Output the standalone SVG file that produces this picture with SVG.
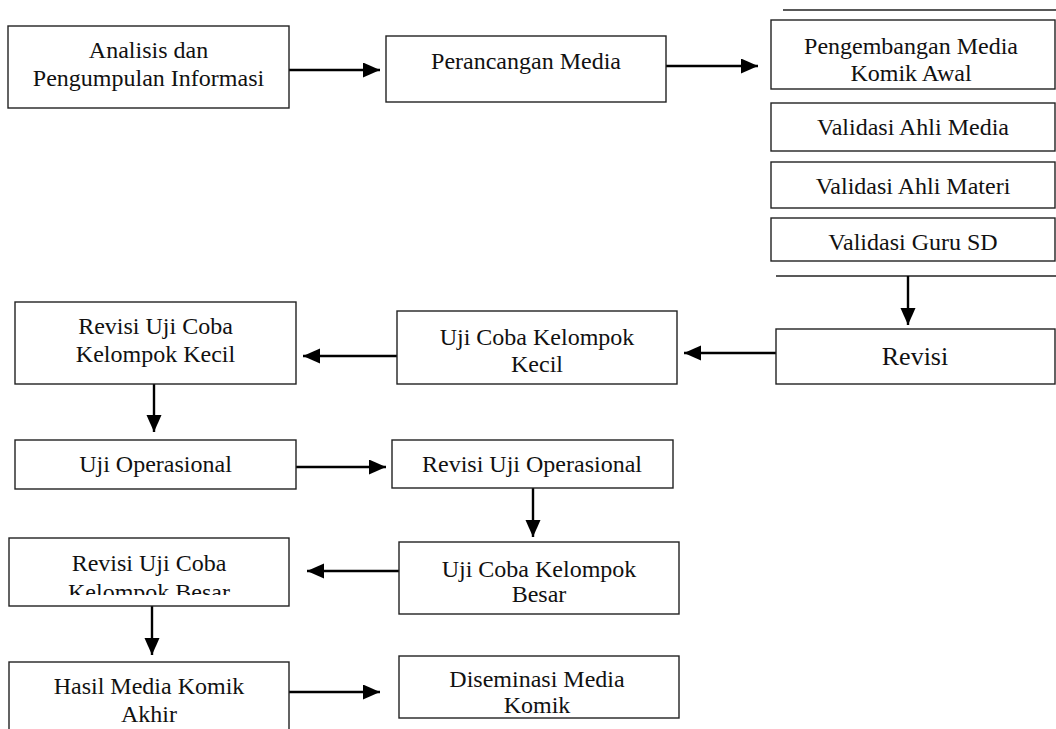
<svg xmlns="http://www.w3.org/2000/svg" width="1056" height="729" viewBox="0 0 1056 729">
<defs>
<style>
.box{fill:#fff;stroke:#222;stroke-width:1.4}
.ln{stroke:#222;stroke-width:1.4;fill:none}
.t{font-size:24px;fill:#111;text-anchor:middle}
.big{font-size:26px}
.arr{stroke:#000;stroke-width:2.4;fill:none;marker-end:url(#ah)}
</style>
<marker id="ah" markerUnits="userSpaceOnUse" markerWidth="18" markerHeight="16" refX="17" refY="7.5" orient="auto">
<path d="M0,0 L17,7.5 L0,15 Z" fill="#000"/>
</marker>
<clipPath id="clipBesar"><rect x="0" y="538" width="300" height="57"/></clipPath>
</defs>
<rect width="1056" height="729" fill="#fff"/>

<g id="connectors">
<line class="arr" x1="289" y1="70" x2="380" y2="70"/>
<line class="arr" x1="666" y1="66" x2="758" y2="66"/>
<line class="ln" x1="783" y1="10" x2="1056" y2="10"/>
<line class="ln" x1="776" y1="276" x2="1056" y2="276"/>
<line class="arr" x1="908" y1="276" x2="908" y2="325"/>
<line class="arr" x1="776" y1="353" x2="684" y2="353"/>
<line class="arr" x1="397" y1="356" x2="303" y2="356"/>
<line class="arr" x1="154" y1="384" x2="154" y2="432"/>
<line class="arr" x1="293" y1="467" x2="386" y2="467"/>
<line class="arr" x1="533" y1="488" x2="533" y2="537"/>
<line class="arr" x1="399" y1="571" x2="307" y2="571"/>
<line class="arr" x1="152" y1="606" x2="152" y2="655"/>
<line class="arr" x1="288" y1="692" x2="380" y2="692"/>
</g>

<g font-family="Liberation Serif, Times New Roman, DejaVu Serif, serif">
<g id="analisis">
<rect class="box" x="8" y="26" width="281" height="82"/>
<text class="t" x="148.5" y="58">Analisis dan</text>
<text class="t" x="148.5" y="86">Pengumpulan Informasi</text>
</g>

<g id="perancangan">
<rect class="box" x="386" y="36" width="280" height="66"/>
<text class="t" x="526" y="69">Perancangan Media</text>
</g>

<g id="pengembangan">
<rect class="box" x="771" y="20" width="284" height="69"/>
<text class="t" x="911" y="54">Pengembangan Media</text>
<text class="t" x="911" y="81">Komik Awal</text>
</g>

<g id="validasi-media">
<rect class="box" x="771" y="103" width="284" height="48"/>
<text class="t" x="913" y="135">Validasi Ahli Media</text>
</g>

<g id="validasi-materi">
<rect class="box" x="771" y="162" width="284" height="46"/>
<text class="t" x="913" y="194">Validasi Ahli Materi</text>
</g>

<g id="validasi-guru">
<rect class="box" x="771" y="218" width="284" height="43"/>
<text class="t" x="913" y="250">Validasi Guru SD</text>
</g>

<g id="revisi">
<rect class="box" x="776" y="329" width="279" height="55"/>
<text class="t big" x="915" y="365">Revisi</text>
</g>

<g id="uji-kecil">
<rect class="box" x="397" y="311" width="280" height="73"/>
<text class="t" x="537" y="345">Uji Coba Kelompok</text>
<text class="t" x="537" y="372">Kecil</text>
</g>

<g id="revisi-kecil">
<rect class="box" x="15" y="302" width="281" height="82"/>
<text class="t" x="155.5" y="334">Revisi Uji Coba</text>
<text class="t" x="155.5" y="362">Kelompok Kecil</text>
</g>

<g id="uji-operasional">
<rect class="box" x="15" y="440" width="281" height="49"/>
<text class="t" x="155.5" y="472">Uji Operasional</text>
</g>

<g id="revisi-operasional">
<rect class="box" x="392" y="440" width="281" height="48"/>
<text class="t" x="532" y="472">Revisi Uji Operasional</text>
</g>

<g id="uji-besar">
<rect class="box" x="399" y="542" width="280" height="72"/>
<text class="t" x="539" y="577">Uji Coba Kelompok</text>
<text class="t" x="539" y="602">Besar</text>
</g>

<g id="revisi-besar">
<rect class="box" x="9" y="538" width="280" height="68"/>
<text class="t" x="149" y="571">Revisi Uji Coba</text>
<text class="t" x="149" y="600" clip-path="url(#clipBesar)">Kelompok Besar</text>
</g>

<g id="hasil">
<rect class="box" x="9" y="662" width="280" height="90"/>
<text class="t" x="149" y="694">Hasil Media Komik</text>
<text class="t" x="149" y="722">Akhir</text>
</g>

<g id="diseminasi">
<rect class="box" x="399" y="656" width="280" height="62"/>
<text class="t" x="537" y="687">Diseminasi Media</text>
<text class="t" x="537" y="713">Komik</text>
</g>
</g>
</svg>
